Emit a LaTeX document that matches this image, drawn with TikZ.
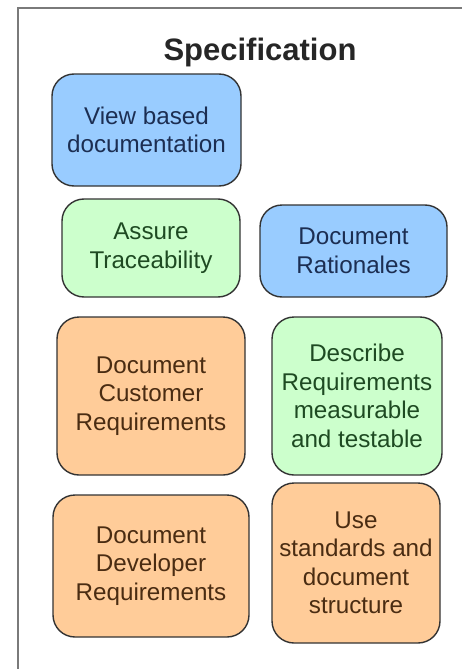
\documentclass[tikz,border=0pt]{standalone}
\usepackage{fontspec}
\setmainfont{Liberation Sans}
\definecolor{blueFill}{HTML}{99CCFF}
\definecolor{blueText}{HTML}{1C2E52}
\definecolor{greenFill}{HTML}{CCFFCC}
\definecolor{greenText}{HTML}{1E4A22}
\definecolor{orangeFill}{HTML}{FFCC99}
\definecolor{orangeText}{HTML}{4A2C12}
\definecolor{frameGray}{HTML}{7A7A7A}
\begin{document}
\begin{tikzpicture}[x=1pt,y=-1pt,
  task/.style={rectangle, rounded corners=22pt, draw=black!80, line width=1.4pt,
    inner sep=0pt, align=center, font=\fontsize{24.2}{28.5}\selectfont},
  bluetask/.style={task, fill=blueFill, text=blueText},
  greentask/.style={task, fill=greenFill, text=greenText},
  orangetask/.style={task, fill=orangeFill, text=orangeText}]
\useasboundingbox (0,0) rectangle (462,669);
% frame: top and left edges only
\draw[frameGray, line width=2.5pt] (18,669) -- (18,8) -- (462,8);
% title
\node[font=\fontsize{31}{36}\selectfont\bfseries, text=black!85] (title) at (260,52) {Specification};
% activity boxes
\node[bluetask, minimum width=189pt, minimum height=112pt] (view) at (146.5,130) {View based\\documentation};
\node[greentask, minimum width=178pt, minimum height=98pt] (trace) at (151,248) {Assure\\Traceability};
\node[bluetask, minimum width=187pt, minimum height=92pt] (rationale) at (353.5,251) {Document\\Rationales};
\node[orangetask, minimum width=188pt, minimum height=158pt] (customer) at (151,396) {Document\\Customer\\Requirements};
\node[greentask, minimum width=170pt, minimum height=158pt] (measure) at (357,396) {Describe\\Requirements\\measurable\\and testable};
\node[orangetask, minimum width=196pt, minimum height=142pt] (developer) at (151,566) {Document\\Developer\\Requirements};
\node[orangetask, minimum width=168pt, minimum height=160pt] (standards) at (356,563) {Use\\standards and\\document\\structure};
\end{tikzpicture}
\end{document}
